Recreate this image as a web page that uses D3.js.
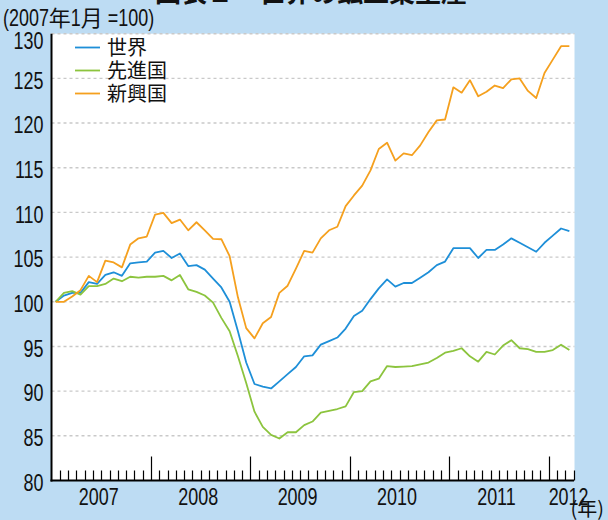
<!DOCTYPE html>
<html><head><meta charset="utf-8">
<script src="https://cdn.jsdelivr.net/npm/d3@7"></script>
<style>
html,body{margin:0;padding:0;background:#bddcf3;}
svg{display:block;}
text{white-space:pre;}
</style></head>
<body>
<svg id="chart" width="608" height="520"></svg>
<script>
// ---- data ----
const categories = d3.timeMonths(new Date(2007,0,1), new Date(2012,3,1)); // Jan 2007 .. Mar 2012
const yearLabels = ["2007","2008","2009","2010","2011","2012"];
const yTicks = [80,85,90,95,100,105,110,115,120,125,130];
const seriesNames = ["世界","先進国","新興国"];
const world = [100.0,100.7,101.0,101.0,102.2,102.0,103.0,103.3,102.9,104.3,104.4,104.5,
  105.5,105.7,104.9,105.4,104.0,104.1,103.6,102.6,101.6,100.0,96.7,93.2,
  90.8,90.5,90.3,91.1,91.9,92.7,93.9,94.0,95.2,95.6,96.0,97.0,
  98.4,99.0,100.3,101.5,102.5,101.7,102.1,102.1,102.7,103.3,104.1,104.5,
  106.0,106.0,106.0,104.9,105.8,105.8,106.4,107.1,106.6,106.1,105.6,106.6,
  107.4,108.2,107.9];
const advanced = [100.0,101.0,101.2,100.8,101.75,101.75,102.0,102.6,102.3,102.8,102.7,102.8,
  102.8,102.9,102.4,103.0,101.4,101.1,100.7,99.9,98.2,96.7,93.9,90.9,
  87.7,86.0,85.1,84.7,85.4,85.4,86.2,86.6,87.6,87.8,88.0,88.3,
  89.9,90.0,91.1,91.4,92.8,92.7,92.75,92.8,93.0,93.2,93.7,94.3,
  94.5,94.8,93.9,93.3,94.4,94.1,95.1,95.7,94.8,94.7,94.4,94.4,
  94.6,95.2,94.6];
const emerging = [100.0,100.0,100.6,101.3,102.9,102.2,104.6,104.4,103.85,106.4,107.1,107.3,
  109.75,109.95,108.8,109.2,108.0,108.9,108.0,107.05,107.0,105.1,100.5,97.05,
  95.9,97.6,98.3,101.0,101.8,103.7,105.7,105.5,107.1,108.0,108.4,110.7,
  111.9,113.0,114.7,117.1,117.8,115.8,116.6,116.4,117.5,119.0,120.3,120.4,
  124.0,123.4,124.8,123.0,123.5,124.2,123.9,124.9,125.0,123.6,122.8,125.6,
  127.1,128.6,128.6];
const colors = ["#1e8fd8","#8cc43e","#f5a01e"];

// ---- layout ----
const svg = d3.select("#chart");
const pL = 51.5, pR = 573.5, pT = 33.7, pB = 480.5;
const x = d3.scaleBand().domain(d3.range(categories.length)).range([pL, pR]).padding(0);
const step = x.step();
const y = d3.scaleLinear().domain([80,130]).range([pB, pT]);
const fontNum = "'Liberation Sans',Arial,sans-serif";
const fontCJK = "'Noto Sans CJK JP',sans-serif";
const SX = 0.78; // horizontal compression for the condensed numerals

function narrow(parent, tx, ty, anchor, str, size){
  return parent.append("text")
    .attr("transform",`translate(${tx},${ty}) scale(${SX},1)`)
    .attr("text-anchor",anchor).attr("font-family",fontNum)
    .attr("font-size",size).attr("fill","#111").text(str);
}

// title (cut off at top)
svg.append("text").attr("x",155).attr("y",2)
  .attr("font-family",fontCJK).attr("font-weight","bold").attr("font-size",26)
  .attr("fill","#111").text("図表１　世界の鉱工業生産");

// unit note: mixed condensed numerals and CJK
const noteParts = [["(2007",1],["年",0],["1",1],["月",0],[" =100)",1]];
let cx = 3;
noteParts.forEach(([t,n])=>{
  let el;
  if(n){ el = narrow(svg, cx, 26, "start", t, 23); cx += el.node().getComputedTextLength()*SX; }
  else { el = svg.append("text").attr("x",cx).attr("y",26).attr("font-family",fontCJK)
           .attr("font-size",22).attr("fill","#111").text(t);
         cx += el.node().getComputedTextLength(); }
});

// plot background
svg.append("rect").attr("x",pL).attr("y",pT).attr("width",pR-pL+1).attr("height",pB-pT).attr("fill","#fff");

// gridlines
svg.append("g").selectAll("line").data(yTicks.filter(d=>d>80)).join("line")
  .attr("x1",pL).attr("x2",pR+1).attr("y1",d=>y(d)).attr("y2",d=>y(d))
  .attr("stroke","#c9c9c9").attr("stroke-width",1.4).attr("stroke-dasharray","3,3");

// y labels
const gy = svg.append("g");
yTicks.forEach(d=> narrow(gy, 43.5, Math.max(y(d)+2, 41)+8.2, "end", String(d), 23));

// series lines
const series = [world, advanced, emerging];
const line = d3.line().x((d,i)=>x(i)+step/2).y(d=>y(d));
svg.append("g").selectAll("path").data(series).join("path")
  .attr("d",d=>line(d)).attr("fill","none")
  .attr("stroke",(d,i)=>colors[i]).attr("stroke-width",1.8).attr("stroke-linejoin","round");

// axes
svg.append("line").attr("x1",pL).attr("x2",pL).attr("y1",pT).attr("y2",pB+1)
  .attr("stroke","#000").attr("stroke-width",2);
svg.append("line").attr("x1",pL-1).attr("x2",pR+0.5).attr("y1",pB).attr("y2",pB)
  .attr("stroke","#000").attr("stroke-width",2);

// month ticks (at category boundaries), tall at year boundaries
const bounds = d3.range(1, categories.length+1);
svg.append("g").selectAll("line").data(bounds).join("line")
  .attr("x1",i=>Math.round(pL + i*step)+0.5).attr("x2",i=>Math.round(pL + i*step)+0.5)
  .attr("y1",pB).attr("y2",i=>pB - (i%12===0 && i<categories.length ? 24 : 10))
  .attr("stroke","#000").attr("stroke-width",1.2);

// year labels
const gx = svg.append("g");
yearLabels.forEach((d,k)=>{
  const b = pL + 12*k*step;
  const full = k*12+12 <= categories.length;
  narrow(gx, full ? b + 5.7*step : b, 505, full ? "middle" : "start", d, 23);
});

svg.append("text").attr("x",604).attr("y",516).attr("text-anchor","end")
  .attr("font-family",fontCJK).attr("font-size",20).attr("fill","#111").text("(年)");

// legend
const lg = svg.append("g").selectAll("g").data(seriesNames).join("g")
  .attr("transform",(d,i)=>`translate(0,${47.5 + i*23})`);
lg.append("line").attr("x1",75).attr("x2",100).attr("stroke",(d,i)=>colors[i]).attr("stroke-width",1.8);
lg.append("text").attr("x",107).attr("y",7.5).attr("font-family",fontCJK).attr("font-size",20)
  .attr("fill","#111").text(d=>d);
</script>
</body></html>
